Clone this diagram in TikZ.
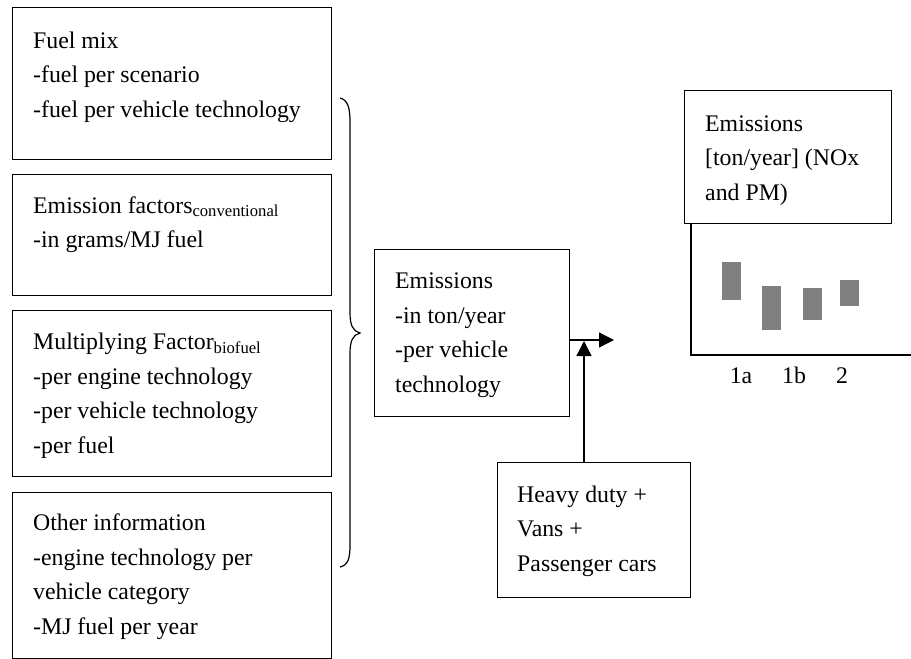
\documentclass[tikz,border=0pt]{standalone}
\usepackage{fontspec}
\setmainfont{Liberation Serif}
\usetikzlibrary{arrows.meta}
\begin{document}
\begin{tikzpicture}[x=1pt,y=-1pt,
  box/.style={draw,line width=1.3pt,inner sep=0pt,anchor=north west},
  % text blocks are placed by the baseline of their last line
  txt/.style={anchor=base west,inner sep=0pt,align=left,
    font=\fontsize{23.8}{34.5}\selectfont},
  lbl/.style={anchor=base,inner sep=0pt,font=\fontsize{23.8}{34.5}\selectfont},
  conn/.style={line width=1.3pt},
  arr/.style={line width=1.3pt,-{Triangle[length=15pt,width=15pt]}},
  bar/.style={fill=black!50,draw=none}]
\useasboundingbox (0,0) rectangle (911,659);

% input boxes on the left
\node[box,minimum width=319pt,minimum height=152pt] (fuel) at (12,7) {};
\node[txt] (fueltxt) at (33,117) {Fuel mix\\-fuel per scenario\\-fuel per vehicle technology};

\node[box,minimum width=319pt,minimum height=121pt] (ef) at (12,174) {};
\node[txt] (eftxt) at (33,247.5) {Emission factors\textsubscript{conventional}\\-in grams/MJ fuel};

\node[box,minimum width=319pt,minimum height=166pt] (mf) at (12,310) {};
\node[txt] (mftxt) at (33,453) {Multiplying Factor\textsubscript{biofuel}\\-per engine technology\\-per vehicle technology\\-per fuel};

\node[box,minimum width=319pt,minimum height=166pt] (other) at (12,492) {};
\node[txt] (othertxt) at (33,634) {Other information\\-engine technology per\\vehicle category\\-MJ fuel per year};

% brace gathering the inputs
\draw[line width=1.2pt] (340,98) .. controls (348,100) and (350,108) .. (350,122)
  -- (350,312) .. controls (350,326) and (353,331) .. (360,333)
  .. controls (353,335) and (350,340) .. (350,354)
  -- (350,545) .. controls (350,559) and (348,565) .. (340,567);

% emissions per vehicle technology
\node[box,minimum width=195pt,minimum height=167pt] (emis) at (374,249) {};
\node[txt] (emistxt) at (395,392) {Emissions\\-in ton/year\\-per vehicle\\technology};

% vehicle categories
\node[box,minimum width=193pt,minimum height=135pt] (heavy) at (497,462) {};
\node[txt] (heavytxt) at (517,571) {Heavy duty +\\Vans +\\Passenger cars};

% connectors
\coordinate (out) at (614,340);
\coordinate (join) at (584,341);
\draw[arr] (emis.east |- out) -- (out);
\draw[arr] (heavy.north -| join) -- (join);

% result chart
\node[box,fill=white,minimum width=207pt,minimum height=133pt] (chart) at (684,90) {};
\node[txt] (charttxt) at (705,200) {Emissions\\{[ton/year]} (NOx\\and PM)};
\coordinate (axtop) at (691,223);
\coordinate (axcorner) at (691,355);
\coordinate (axend) at (911,355);
\draw[conn] (axtop) -- (axcorner) -- (axend);

\fill[bar] (722,262) rectangle (741,300);
\fill[bar] (762,286) rectangle (781,330);
\fill[bar] (803,288) rectangle (822,320);
\fill[bar] (840,280) rectangle (859,306);

\node[lbl] (l1a) at (741,383) {1a};
\node[lbl] (l1b) at (794,383) {1b};
\node[lbl] (l2) at (842,383) {2};
\end{tikzpicture}
\end{document}
